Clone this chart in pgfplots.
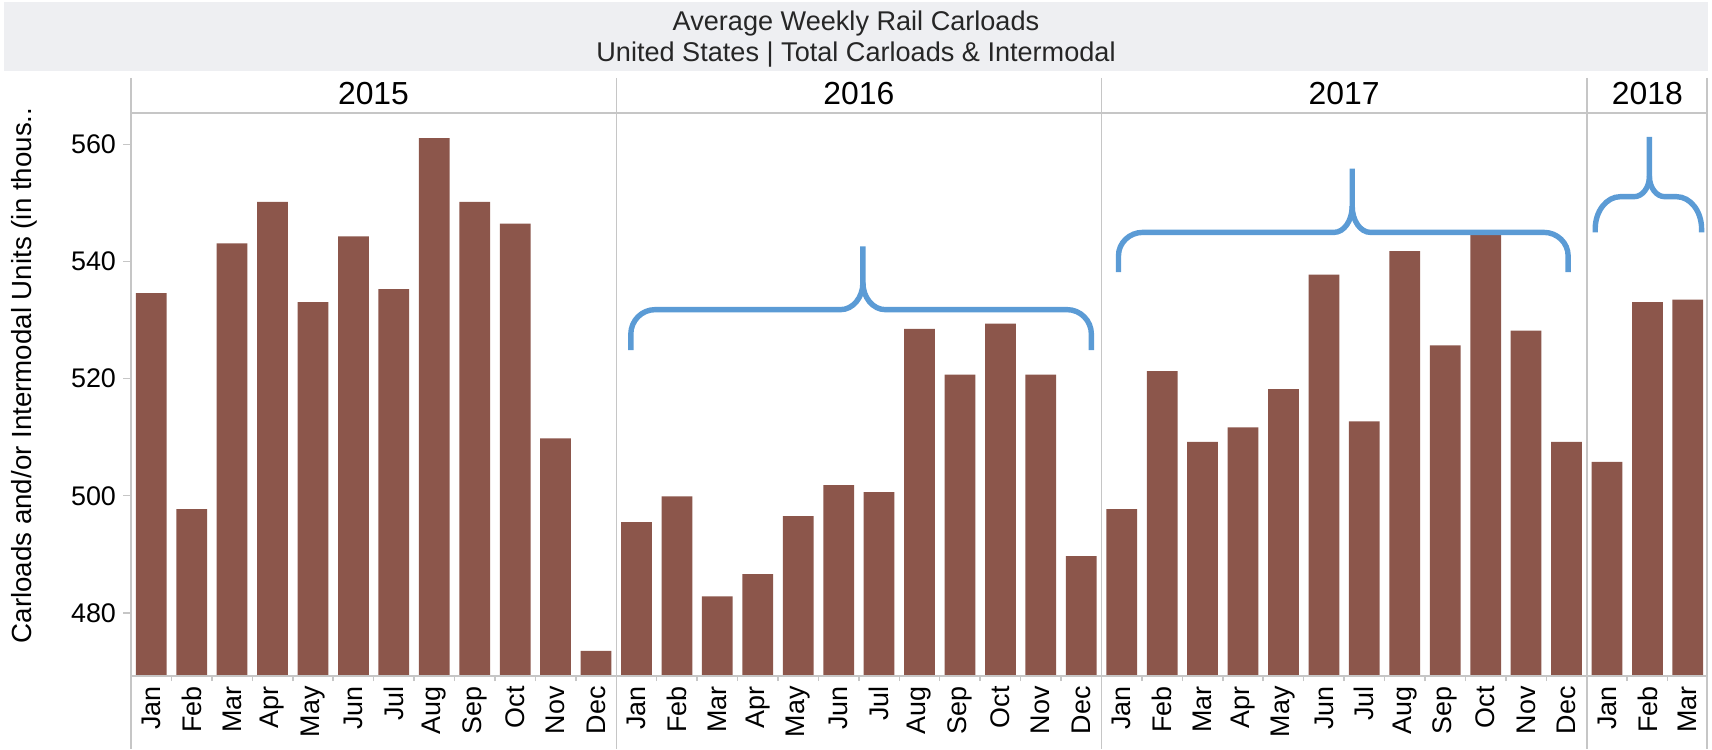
\documentclass[border=0pt]{standalone}
\usepackage{fontspec}
\setmainfont{Liberation Sans}
\usepackage{pgfplots}
\pgfplotsset{compat=1.18}
\definecolor{barbrown}{HTML}{8C564B}
\definecolor{braceblue}{HTML}{5B9BD5}
\definecolor{bandgray}{HTML}{EEEFF2}
\definecolor{linegray}{HTML}{C6C6C6}
\begin{document}
\begin{tikzpicture}
\begin{axis}[
  name=ax, at={(0,0)}, anchor=south west,
  scale only axis, width=788.5bp, height=281.5bp,
  xmin=-0.5, xmax=38.5, ymin=469.2, ymax=565.4,
  axis line style={draw=none},
  ybar, bar width=0.76,
  ytick={480,500,520,540,560},
  ytick pos=left, xtick pos=bottom,
  tick align=outside,
  major tick length=4bp,
  minor tick length=2.5bp,
  tick style={linegray, line width=0.75bp},
  major x tick style={draw=none},
  yticklabel style={font=\fontsize{13.5}{16}\selectfont},
  /pgf/number format/assume math mode=true,
  xtick={0,...,38},
  minor xtick={0.5,1.5,...,37.5},
  xticklabels={Jan,Feb,Mar,Apr,May,Jun,Jul,Aug,Sep,Oct,Nov,Dec,
               Jan,Feb,Mar,Apr,May,Jun,Jul,Aug,Sep,Oct,Nov,Dec,
               Jan,Feb,Mar,Apr,May,Jun,Jul,Aug,Sep,Oct,Nov,Dec,
               Jan,Feb,Mar},
  xticklabel style={rotate=90, anchor=east, inner sep=1bp, font=\fontsize{13.5}{16}\selectfont},
]
\addplot[fill=barbrown, draw=none] coordinates {
 (0,534.6) (1,497.7) (2,543.1) (3,550.2) (4,533.1) (5,544.3) (6,535.3) (7,561.1) (8,550.2) (9,546.5) (10,509.8) (11,473.5)
 (12,495.5) (13,499.9) (14,482.8) (15,486.6) (16,496.5) (17,501.8) (18,500.6) (19,528.5) (20,520.7) (21,529.4) (22,520.7) (23,489.7)
 (24,497.7) (25,521.3) (26,509.2) (27,511.7) (28,518.2) (29,537.8) (30,512.7) (31,541.8) (32,525.7) (33,544.6) (34,528.2) (35,509.2)
 (36,505.8) (37,533.1) (38,533.5)
};
% brace 2016
\draw[braceblue, line width=2.7bp] (axis cs:11.86,524.9) -- (axis cs:11.86,527.6)
  .. controls (axis cs:11.86,529.92) and (axis cs:12.13,531.8) .. (axis cs:12.46,531.8)
  -- (axis cs:17.05,531.8)
  .. controls (axis cs:17.35,531.8) and (axis cs:17.6,533.86) .. (axis cs:17.6,536.4)
  -- (axis cs:17.6,542.6);
\draw[braceblue, line width=2.7bp] (axis cs:17.6,536.4)
  .. controls (axis cs:17.6,533.86) and (axis cs:17.85,531.8) .. (axis cs:18.15,531.8)
  -- (axis cs:22.65,531.8)
  .. controls (axis cs:22.98,531.8) and (axis cs:23.25,529.92) .. (axis cs:23.25,527.6)
  -- (axis cs:23.25,524.9);
% brace 2017
\draw[braceblue, line width=2.7bp] (axis cs:23.92,538.2) -- (axis cs:23.92,541.0)
  .. controls (axis cs:23.92,543.21) and (axis cs:24.19,545.0) .. (axis cs:24.52,545.0)
  -- (axis cs:29.25,545.0)
  .. controls (axis cs:29.50,545.0) and (axis cs:29.7,547.02) .. (axis cs:29.7,549.5)
  -- (axis cs:29.7,555.9);
\draw[braceblue, line width=2.7bp] (axis cs:29.7,549.5)
  .. controls (axis cs:29.7,547.02) and (axis cs:29.9,545.0) .. (axis cs:30.15,545.0)
  -- (axis cs:34.44,545.0)
  .. controls (axis cs:34.77,545.0) and (axis cs:35.04,543.21) .. (axis cs:35.04,541.0)
  -- (axis cs:35.04,538.2);
% brace 2018
\draw[braceblue, line width=2.7bp] (axis cs:35.71,545.0) -- (axis cs:35.71,545.6)
  .. controls (axis cs:35.71,548.64) and (axis cs:35.99,551.1) .. (axis cs:36.33,551.1)
  -- (axis cs:36.67,551.1)
  .. controls (axis cs:36.88,551.1) and (axis cs:37.05,552.67) .. (axis cs:37.05,554.6)
  -- (axis cs:37.05,561.3);
\draw[braceblue, line width=2.7bp] (axis cs:37.05,554.6)
  .. controls (axis cs:37.05,552.67) and (axis cs:37.22,551.1) .. (axis cs:37.43,551.1)
  -- (axis cs:37.72,551.1)
  .. controls (axis cs:38.06,551.1) and (axis cs:38.34,548.64) .. (axis cs:38.34,545.6)
  -- (axis cs:38.34,545.0);
\end{axis}
\begin{scope}[shift={(-65.5bp,338bp)}, x=0.5bp, y=-0.5bp]
  \path (0,0) rectangle (1712,749);
  \fill[bandgray] (4,2) rectangle (1708,71);
  \node[font=\fontsize{13.6}{15}\selectfont, text=black!85] at (856,24) {Average Weekly Rail Carloads};
  \node[font=\fontsize{13.6}{15}\selectfont, text=black!85] at (856,55) {United States | Total Carloads \& Intermodal};
  \foreach \xx/\yr in {373.5/2015, 858.8/2016, 1344.2/2017, 1647.4/2018}
    \node[font=\fontsize{16}{19}\selectfont] at (\xx,94) {\yr};
  \draw[linegray, line width=0.75bp] (131,113) -- (1707,113);
  \draw[linegray, line width=0.75bp] (131,676) -- (1707,676);
  \foreach \xx in {131, 616.3, 1101.6, 1586.8, 1707}
    \draw[linegray, line width=0.75bp] (\xx,78) -- (\xx,749);
  \node[rotate=90, font=\fontsize{13.9}{16}\selectfont] at (24,375.5) {Carloads and/or Intermodal Units (in thous..};
\end{scope}
\end{tikzpicture}
\end{document}
